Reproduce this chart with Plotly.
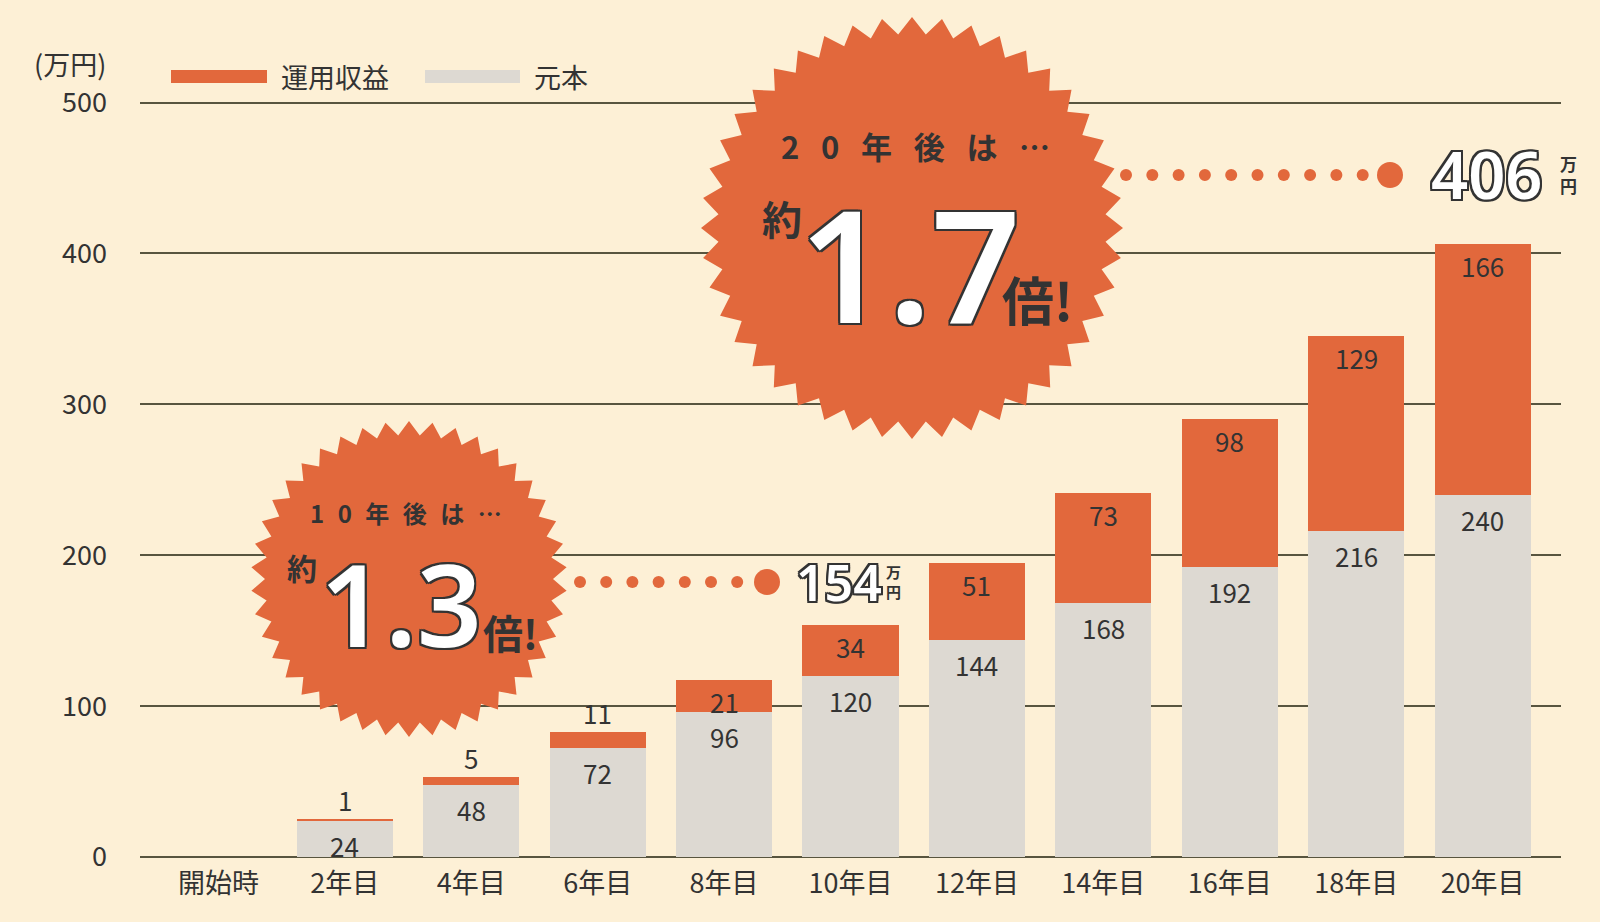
import numpy as np
import plotly.graph_objs as go

# data (万円)
categories = ['開始時', '2年目', '4年目', '6年目', '8年目', '10年目',
              '12年目', '14年目', '16年目', '18年目', '20年目']
principal = [0, 24, 48, 72, 96, 120, 144, 168, 192, 216, 240]
gains = [0, 1, 5, 11, 21, 34, 51, 73, 98, 129, 166]
y_ticks = [0, 100, 200, 300, 400, 500]

totals = [p + g for p, g in zip(principal, gains)]

# colours
BG = '#FDF0D6'
ORANGE = '#E2683C'
GRAY = '#DDD9D2'
GRID = '#58553F'
INK = '#333333'
JP = 'Noto Sans CJK JP'
NUM = 'Noto Sans'

# plot area in pixels (used to place the decorations)
PL, PR, PT, PB = 140, 1561, 101, 857
YMAX = 501


def px(x):
    return (x - PL) / (PR - PL)


def py(y):
    return (PB - y) / (PB - PT)


def star_path(r_out, r_in, n):
    pts = []
    for i in range(2 * n):
        ang = np.pi * i / n - np.pi / 2
        r = r_out if i % 2 == 0 else r_in
        pts.append('%.1f,%.1f' % (r * np.cos(ang), r * np.sin(ang)))
    return 'M ' + ' L '.join(pts) + ' Z'


def note(x, y, text, size, color=INK, family=JP, weight='normal', xanchor='center', **kw):
    return dict(xref='paper', yref='paper', x=px(x), y=py(y), text=text, showarrow=False,
                xanchor=xanchor, yanchor='middle',
                font=dict(family=family, size=size, color=color, weight=weight, **kw))


outline = ', '.join('%dpx %dpx 0 %s' % (dx, dy, INK)
                    for dx, dy in [(-2, -2), (2, -2), (-2, 2), (2, 2),
                                   (0, 2), (0, -2), (2, 0), (-2, 0)])

data = [
    go.Bar(x=categories, y=principal, name='元本', marker=dict(color=GRAY, line=dict(width=0))),
    go.Bar(x=categories, y=gains, name='運用収益', marker=dict(color=ORANGE, line=dict(width=0))),
]

annotations = []
shapes = []

# value labels on the bars
for c, p, g, t in zip(categories, principal, gains, totals):
    if p > 0:
        annotations.append(dict(x=c, y=p, text=str(p), showarrow=False, xanchor='center',
                                yanchor='top', yshift=-5, borderpad=0,
                                font=dict(family=JP, size=26, color=INK)))
    if g >= 20:
        annotations.append(dict(x=c, y=t, text=str(g), showarrow=False, xanchor='center',
                                yanchor='top', yshift=-2, borderpad=0,
                                font=dict(family=JP, size=26, color=INK)))
    elif g > 0:
        annotations.append(dict(x=c, y=t, text=str(g), showarrow=False, xanchor='center',
                                yanchor='bottom', yshift=0, borderpad=0,
                                font=dict(family=JP, size=26, color=INK)))

# legend (drawn by hand for the long swatches)
shapes.append(dict(type='rect', xref='paper', yref='paper', x0=px(171), x1=px(267), y0=py(83), y1=py(70),
                   fillcolor=ORANGE, line=dict(width=0)))
shapes.append(dict(type='rect', xref='paper', yref='paper', x0=px(425), x1=px(520), y0=py(83), y1=py(70),
                   fillcolor=GRAY, line=dict(width=0)))
annotations.append(note(279, 77, '運用収益', 27, xanchor='left'))
annotations.append(note(532, 77, '元本', 27, xanchor='left'))
annotations.append(note(108, 63, '(万円)', 27, xanchor='right'))

# starbursts
shapes.append(dict(type='path', xref='paper', yref='paper', xsizemode='pixel', ysizemode='pixel',
                   xanchor=px(912), yanchor=py(228), path=star_path(211, 194, 44),
                   fillcolor=ORANGE, line=dict(width=0), layer='above'))
shapes.append(dict(type='path', xref='paper', yref='paper', xsizemode='pixel', ysizemode='pixel',
                   xanchor=px(409), yanchor=py(579), path=star_path(158, 144, 42),
                   fillcolor=ORANGE, line=dict(width=0), layer='above'))

gap = '\u2002\u2009'
# big starburst text
annotations.append(note(916, 145, gap.join('20年後は…'), 31, weight='bold'))
annotations.append(note(782, 218, '約', 40, weight='bold'))
annotations.append(note(910, 262, '1.7', 156, color='white', family=NUM, weight=600, shadow=outline))
annotations.append(note(1037, 298, '倍!', 52, weight='bold'))

# small starburst text
annotations.append(note(406, 512, ('\u2002\u200A').join('10年後は…'), 24, weight='bold'))
annotations.append(note(302, 567, '約', 30, weight='bold'))
annotations.append(note(401, 602, '1.3', 114, color='white', family=NUM, weight=600, shadow=outline))
annotations.append(note(510, 632, '倍!', 40, weight='bold'))

# dotted leaders
for x0, y0, n, step, xbig in [(1126, 175, 10, 26.3, 1390), (580, 582, 7, 26.2, 767)]:
    for i in range(n):
        shapes.append(dict(type='circle', xref='paper', yref='paper', xsizemode='pixel', ysizemode='pixel',
                           xanchor=px(x0 + i * step), yanchor=py(y0), x0=-6, x1=6, y0=-6, y1=6,
                           fillcolor=ORANGE, line=dict(width=0), layer='above'))
    shapes.append(dict(type='circle', xref='paper', yref='paper', xsizemode='pixel', ysizemode='pixel',
                       xanchor=px(xbig), yanchor=py(y0), x0=-13, x1=13, y0=-13, y1=13,
                       fillcolor=ORANGE, line=dict(width=0), layer='above'))

# totals after 10 and 20 years
for c, t, size, xs, ys, us in [('20年目', totals[-1], 65, 4, 70, 86), ('10年目', totals[5], 50, -12, 43, 43)]:
    annotations.append(dict(x=c, y=t, text=str(t), showarrow=False, xshift=xs, yshift=ys,
                            xanchor='center', yanchor='middle',
                            font=dict(family=NUM, size=size, color='white', weight=600, shadow=outline)))
    annotations.append(dict(x=c, y=t, text='万<br>円', showarrow=False, xshift=us, yshift=ys,
                            xanchor='center', yanchor='middle',
                            font=dict(family=JP, size=17 if size > 60 else 15, color=INK, weight='bold')))

layout = go.Layout(
    width=1600, height=922,
    barmode='stack', bargap=0.24,
    showlegend=False,
    paper_bgcolor=BG, plot_bgcolor=BG,
    margin=dict(l=PL, r=1600 - PR, t=PT, b=922 - PB),
    xaxis=dict(type='category', range=[-0.62, 10.62], showgrid=False, showline=False, zeroline=False,
               ticks='', tickfont=dict(family=JP, size=27, color=INK), ticklabelstandoff=8),
    yaxis=dict(range=[0, YMAX], tickvals=y_ticks, showgrid=True, gridcolor=GRID, gridwidth=1.5,
               zeroline=True, zerolinecolor=GRID, zerolinewidth=1.5, showline=False, ticks='',
               tickfont=dict(family=JP, size=27, color=INK), ticklabelstandoff=32),
    annotations=annotations,
    shapes=shapes,
    hovermode=False,
)

fig = go.Figure(data=data, layout=layout)
fig.write_html('out.html', config={'displayModeBar': False},
               post_script="document.body.style.margin='0';")
